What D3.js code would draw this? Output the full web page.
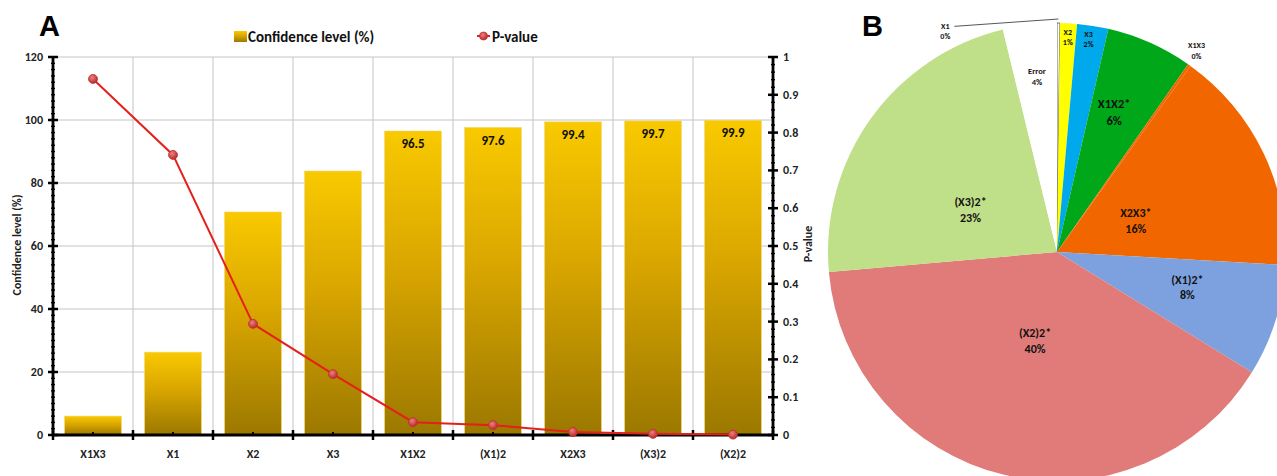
<!DOCTYPE html>
<html>
<head>
<meta charset="utf-8">
<script src="https://cdn.jsdelivr.net/npm/d3@7"></script>
<style>
  html, body { margin: 0; padding: 0; background: #fff; }
  svg { display: block; font-family: Carlito, Lato, "Open Sans", sans-serif; }
</style>
</head>
<body>
<svg id="chart" width="1277" height="476"></svg>
<script>
// ---- Panel A: confidence level bars + p-value line ----
const factors = ["X1X3", "X1", "X2", "X3", "X1X2", "(X1)2", "X2X3", "(X3)2", "(X2)2"];
const confidence = [6.0, 26.3, 70.8, 83.8, 96.5, 97.6, 99.4, 99.7, 99.9];
const pValues = [0.942, 0.741, 0.294, 0.161, 0.034, 0.026, 0.008, 0.003, 0.001];
const labelledFrom = 96; // bars at or above this get a value label
const leftTicks = [0, 20, 40, 60, 80, 100, 120];
const rightTicks = [0, 0.1, 0.2, 0.3, 0.4, 0.5, 0.6, 0.7, 0.8, 0.9, 1];

// ---- Panel B: contribution of each term ----
const terms = ["X1", "X2", "X3", "X1X2*", "X1X3", "X2X3*", "(X1)2*", "(X2)2*", "(X3)2*", "Error"];
const shares = [0.2, 1.2, 2.2, 6.1, 0.2, 16.0, 7.9, 39.8, 22.6, 3.8];
const sliceColors = ["#ffffff", "#ffff00", "#00a8ec", "#00a819", "#f26600", "#f26600", "#7da1df", "#e07b79", "#bfdf88", "#ffffff"];

const svg = d3.select("#chart");
const defs = svg.append("defs");

const barGrad = defs.append("linearGradient").attr("id", "barGrad")
  .attr("x1", 0).attr("y1", 0).attr("x2", 0).attr("y2", 1);
barGrad.append("stop").attr("offset", "0%").attr("stop-color", "#f9c900");
barGrad.append("stop").attr("offset", "45%").attr("stop-color", "#d9a600");
barGrad.append("stop").attr("offset", "100%").attr("stop-color", "#9b7800");

const dotGrad = defs.append("radialGradient").attr("id", "dotGrad")
  .attr("cx", "40%").attr("cy", "35%").attr("r", "65%");
dotGrad.append("stop").attr("offset", "0%").attr("stop-color", "#f08080");
dotGrad.append("stop").attr("offset", "100%").attr("stop-color", "#b52a2a");

const plot = { left: 53, right: 773, top: 57, bottom: 435 };

const x = d3.scaleBand().domain(factors).range([plot.left, plot.right]).paddingInner(0).paddingOuter(0);
const yL = d3.scaleLinear().domain([0, 120]).range([plot.bottom, plot.top]);
const yR = d3.scaleLinear().domain([0, 1]).range([plot.bottom, plot.top]);
const barW = x.bandwidth() * 0.71;

const A = svg.append("g");

// grid
A.append("g").selectAll("line").data(leftTicks.filter(t => t > 0)).join("line")
  .attr("x1", plot.left).attr("x2", plot.right)
  .attr("y1", d => yL(d)).attr("y2", d => yL(d))
  .attr("stroke", "#c4c4c4").attr("stroke-width", 1);
A.append("g").selectAll("line").data(factors.slice(1)).join("line")
  .attr("x1", d => x(d)).attr("x2", d => x(d))
  .attr("y1", plot.top).attr("y2", plot.bottom)
  .attr("stroke", "#c4c4c4").attr("stroke-width", 1);

// bars
A.append("g").selectAll("rect").data(factors).join("rect")
  .attr("x", d => x(d) + (x.bandwidth() - barW) / 2)
  .attr("width", barW)
  .attr("y", (d, i) => yL(confidence[i]))
  .attr("height", (d, i) => yL(0) - yL(confidence[i]))
  .attr("fill", "url(#barGrad)")
  .attr("stroke", "#f3d46a").attr("stroke-width", 0.6);

// bar value labels
A.append("g").selectAll("text").data(factors.filter((d, i) => confidence[i] >= labelledFrom)).join("text")
  .attr("x", d => x(d) + x.bandwidth() / 2)
  .attr("y", d => yL(confidence[factors.indexOf(d)]) + 17)
  .attr("text-anchor", "middle")
  .attr("font-size", 13).attr("font-weight", 700).attr("fill", "#111")
  .text(d => confidence[factors.indexOf(d)].toFixed(1));

// axes
const axisG = A.append("g").attr("stroke", "#000");
// left axis minor ticks
axisG.append("g").selectAll("line").data(d3.range(0, 120.01, 2)).join("line")
  .attr("x1", plot.left - 2).attr("x2", plot.left + 2)
  .attr("y1", d => yL(d)).attr("y2", d => yL(d)).attr("stroke-width", 1.4);
axisG.append("g").selectAll("line").data(leftTicks).join("line")
  .attr("x1", plot.left - 5).attr("x2", plot.left + 5)
  .attr("y1", d => yL(d)).attr("y2", d => yL(d)).attr("stroke-width", 2.5);
axisG.append("line").attr("x1", plot.left).attr("x2", plot.left)
  .attr("y1", plot.top - 1).attr("y2", plot.bottom + 1).attr("stroke-width", 2.8);
// right axis
axisG.append("g").selectAll("line").data(d3.range(0, 1.001, 0.02)).join("line")
  .attr("x1", plot.right - 2).attr("x2", plot.right + 2)
  .attr("y1", d => yR(d)).attr("y2", d => yR(d)).attr("stroke-width", 1.4);
axisG.append("g").selectAll("line").data(rightTicks).join("line")
  .attr("x1", plot.right - 5).attr("x2", plot.right + 5)
  .attr("y1", d => yR(d)).attr("y2", d => yR(d)).attr("stroke-width", 2.5);
axisG.append("line").attr("x1", plot.right).attr("x2", plot.right)
  .attr("y1", plot.top - 1).attr("y2", plot.bottom + 1).attr("stroke-width", 2.8);
// bottom axis
axisG.append("g").selectAll("line").data(d3.range(factors.length + 1)).join("line")
  .attr("x1", i => plot.left + i * x.bandwidth()).attr("x2", i => plot.left + i * x.bandwidth())
  .attr("y1", plot.bottom - 5).attr("y2", plot.bottom + 5).attr("stroke-width", 2.5);
axisG.append("g").selectAll("line").data(factors).join("line")
  .attr("x1", d => x(d) + x.bandwidth() / 2).attr("x2", d => x(d) + x.bandwidth() / 2)
  .attr("y1", plot.bottom - 3).attr("y2", plot.bottom).attr("stroke-width", 2);
axisG.append("line").attr("x1", plot.left).attr("x2", plot.right)
  .attr("y1", plot.bottom).attr("y2", plot.bottom).attr("stroke-width", 3);

// tick labels
A.append("g").selectAll("text").data(leftTicks).join("text")
  .attr("x", plot.left - 10).attr("y", d => yL(d) + 4)
  .attr("text-anchor", "end").attr("font-size", 12).attr("font-weight", 700).attr("fill", "#222")
  .text(d => d);
A.append("g").selectAll("text").data(rightTicks).join("text")
  .attr("x", plot.right + 10).attr("y", d => yR(d) + 4)
  .attr("text-anchor", "start").attr("font-size", 12).attr("font-weight", 700).attr("fill", "#222")
  .text(d => d);
A.append("g").selectAll("text").data(factors).join("text")
  .attr("x", d => x(d) + x.bandwidth() / 2).attr("y", plot.bottom + 23)
  .attr("text-anchor", "middle").attr("font-size", 12).attr("font-weight", 700).attr("fill", "#222")
  .text(d => d);

// axis titles
A.append("text").attr("transform", "translate(21,245) rotate(-90)")
  .attr("text-anchor", "middle").attr("font-size", 12).attr("font-weight", 700).attr("fill", "#222")
  .text("Confidence level (%)");
A.append("text").attr("transform", "translate(812,244) rotate(-90)")
  .attr("text-anchor", "middle").attr("font-size", 12).attr("font-weight", 700).attr("fill", "#222")
  .text("P-value");

// p-value line
const line = d3.line().x(d => x(d[0]) + x.bandwidth() / 2).y(d => yR(d[1]));
const pts = factors.map((f, i) => [f, pValues[i]]);
A.append("path").datum(pts).attr("d", line)
  .attr("fill", "none").attr("stroke", "#e4201c").attr("stroke-width", 2);
A.append("g").selectAll("circle").data(pts).join("circle")
  .attr("cx", d => x(d[0]) + x.bandwidth() / 2).attr("cy", d => yR(d[1]))
  .attr("r", 4.5).attr("fill", "url(#dotGrad)").attr("stroke", "#c03030").attr("stroke-width", 0.8);

// legend
const leg = A.append("g");
leg.append("rect").attr("x", 234).attr("y", 31).attr("width", 13).attr("height", 11).attr("fill", "url(#barGrad)");
leg.append("text").attr("x", 248).attr("y", 42).attr("font-size", 15).attr("font-weight", 700).attr("fill", "#111")
  .text("Confidence level (%)");
leg.append("line").attr("x1", 477).attr("x2", 490).attr("y1", 36).attr("y2", 36)
  .attr("stroke", "#e4201c").attr("stroke-width", 2);
leg.append("circle").attr("cx", 483.5).attr("cy", 36).attr("r", 4)
  .attr("fill", "url(#dotGrad)").attr("stroke", "#c03030").attr("stroke-width", 0.8);
leg.append("text").attr("x", 492).attr("y", 42).attr("font-size", 15).attr("font-weight", 700).attr("fill", "#111")
  .text("P-value");

// panel letters
svg.append("text").attr("x", 39).attr("y", 36).attr("font-family", "Liberation Sans, Arial, sans-serif")
  .attr("font-size", 29).attr("font-weight", 700).attr("fill", "#000").text("A");
svg.append("text").attr("x", 862).attr("y", 36).attr("font-family", "Liberation Sans, Arial, sans-serif")
  .attr("font-size", 29).attr("font-weight", 700).attr("fill", "#000").text("B");

// ---- Panel B ----
const cx = 1057, cy = 252, R = 229;
const pie = d3.pie().sort(null).value(d => d);
const arcs = pie(shares);
const arc = d3.arc().innerRadius(0).outerRadius(R);
const total = d3.sum(shares);
const B = svg.append("g").attr("transform", `translate(${cx},${cy})`);

B.selectAll("path").data(arcs).join("path")
  .attr("d", arc)
  .attr("fill", (d, i) => sliceColors[i])
  .attr("stroke", (d, i) => i === 0 ? "#555" : "none")
  .attr("stroke-width", (d, i) => i === 0 ? 0.9 : 0);

// label placement: radius as a fraction of R, plus a small angular nudge
const labelStyle = {
  "X1":     { r: 1.08, da: -0.475, size: 8 },
  "X2":     { r: 0.94, da: 0, size: 8 },
  "X3":     { r: 0.94, da: -0.01, size: 8 },
  "X1X2*":  { r: 0.66, da: -0.03, size: 12.5 },
  "X1X3":   { r: 1.07, da: -0.01, size: 8 },
  "X2X3*":  { r: 0.37, da: 0.07, size: 12 },
  "(X1)2*": { r: 0.59, da: -0.04, size: 12 },
  "(X2)2*": { r: 0.40, da: 0.01, size: 12 },
  "(X3)2*": { r: 0.42, da: -0.17, size: 12 },
  "Error":  { r: 0.77, da: 0.005, size: 8.5 }
};

const labels = B.append("g");
arcs.forEach((a, i) => {
  const st = labelStyle[terms[i]];
  const ang = (a.startAngle + a.endAngle) / 2 + st.da;
  const lx = Math.sin(ang) * R * st.r;
  const ly = -Math.cos(ang) * R * st.r;
  const pct = Math.round(shares[i] / total * 100) + "%";
  const t = labels.append("text").attr("text-anchor", "middle")
    .attr("font-size", st.size).attr("font-weight", 700).attr("fill", "#111");
  const gap = st.size * 1.3;
  t.append("tspan").attr("x", lx).attr("y", ly - gap / 2 + st.size * 0.35).text(terms[i]);
  t.append("tspan").attr("x", lx).attr("y", ly + gap / 2 + st.size * 0.35).text(pct);
  if (terms[i] === "X1") {
    const edgeA = (a.startAngle + a.endAngle) / 2;
    B.append("path")
      .attr("d", d3.line()([[lx + 9, ly - 5], [Math.sin(edgeA) * R, -Math.cos(edgeA) * R - 4]]))
      .attr("stroke", "#444").attr("stroke-width", 0.9).attr("fill", "none");
  }
});
</script>
</body>
</html>
